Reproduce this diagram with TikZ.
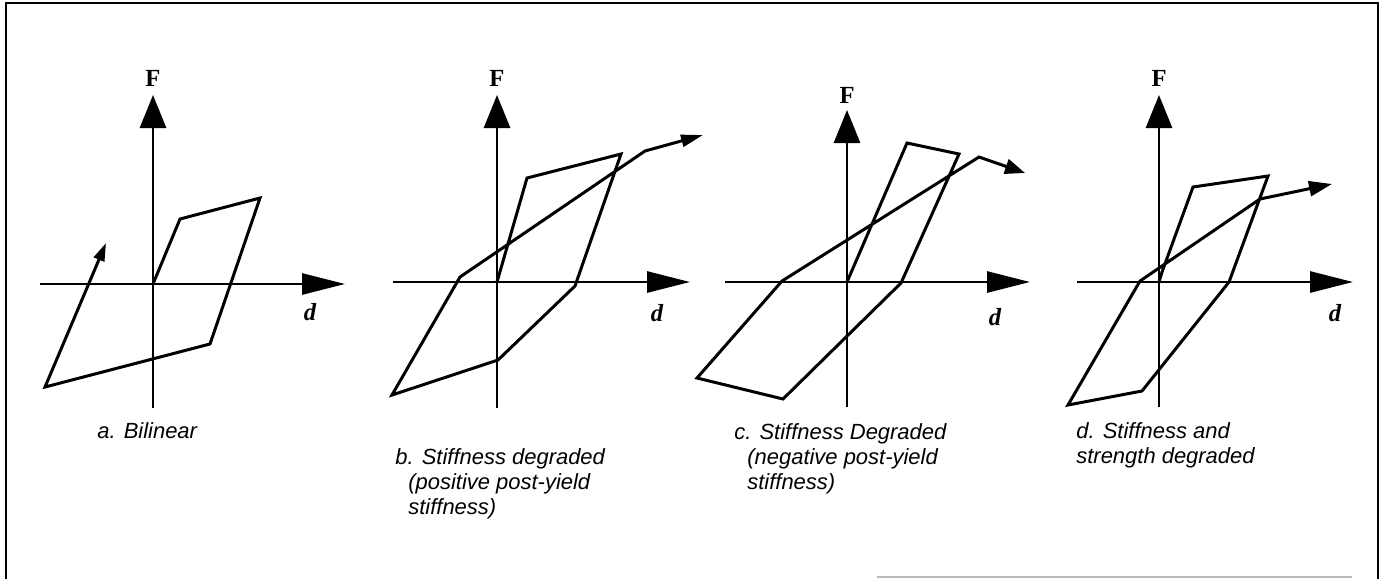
\documentclass[tikz,border=0pt]{standalone}
\usepackage{fontspec}
\setmainfont{Liberation Serif}
\setsansfont{Liberation Sans}
\usepackage{tikz}
\usetikzlibrary{arrows.meta,positioning}
\tikzset{
  frameline/.style={line width=1.1pt},
  axisline/.style={line width=1.6pt},
  haxis/.style={axisline,-{Triangle[length=0.86cm,width=0.42cm]}},
  vaxis/.style={axisline,-{Triangle[length=0.66cm,width=0.52cm]}},
  hyst/.style={line width=1.7pt,line join=miter},
  flabel/.style={font=\fontsize{14}{16}\selectfont\bfseries,inner sep=0pt},
  dlabel/.style={font=\fontsize{14}{16}\selectfont\bfseries\itshape,inner sep=0pt},
  caption/.style={font=\sffamily\itshape\fontsize{12.5}{14.2}\selectfont,
                  align=left,anchor=north west,inner sep=0pt},
}

\begin{document}
\begin{tikzpicture}[x=0.02cm,y=-0.02cm]
  \useasboundingbox (0,0) rectangle (1382,579);
  % frame
  \draw[frameline] (6,579) -- (6,3) -- (1378,3) -- (1378,579);
  \draw[gray!55,line width=0.8pt] (877,577) -- (1352,577);

  % a. bilinear
  \begin{scope}[shift={(153,284)}]
    \coordinate (aO) at (0,0);
    \coordinate (aW) at (-113,0);
    \coordinate (aE) at (192,0);
    \coordinate (aS) at (0,124);
    \coordinate (aN) at (0,-189);
    \draw[haxis] (aW) -- (aE);
    \draw[vaxis] (aS) -- (aN);
    \node[flabel,above=0.16cm of aN] (aF) {F};
    \node[dlabel] (ad) at (157,28) {d};
    \draw[hyst,-{Triangle[length=0.36cm,width=0.22cm]}]
      (aO) -- (27,-65) -- (107,-86) -- (57,60) -- (-108,103) -- (-47,-41);
  \end{scope}
  \node[caption] (acap) at (97,422) {a. Bilinear};

  % b. stiffness degraded, positive
  \begin{scope}[shift={(497,282)}]
    \coordinate (bO) at (0,0);
    \coordinate (bW) at (-104,0);
    \coordinate (bE) at (193,0);
    \coordinate (bS) at (0,126);
    \coordinate (bN) at (0,-187);
    \draw[haxis] (bW) -- (bE);
    \draw[vaxis] (bS) -- (bN);
    \node[flabel,above=0.16cm of bN] (bF) {F};
    \node[dlabel] (bd) at (160,31) {d};
    \draw[hyst,-{Triangle[length=0.44cm,width=0.24cm]}]
      (bO) -- (30,-104) -- (124,-128) -- (78,4) -- (1,78) -- (-105,113)
      -- (-37,-5) -- (148,-131) -- (206,-147);
  \end{scope}
  \node[caption] (bcap) at (395,448)
    {b. Stiffness degraded\\\hspace{0.26cm}(positive post-yield\\\hspace{0.26cm}stiffness)};

  % c. stiffness degraded, negative
  \begin{scope}[shift={(847,282)}]
    \coordinate (cO) at (0,0);
    \coordinate (cW) at (-122,0);
    \coordinate (cE) at (183,0);
    \coordinate (cS) at (0,125);
    \coordinate (cN) at (0,-172);
    \draw[haxis] (cW) -- (cE);
    \draw[vaxis] (cS) -- (cN);
    \node[flabel,above=0.12cm of cN] (cF) {F};
    \node[dlabel] (cd) at (148,35) {d};
    \draw[hyst,-{Triangle[length=0.4cm,width=0.3cm]}]
      (cO) -- (60,-139) -- (112,-128) -- (54,1) -- (-64,117) -- (-150,96)
      -- (-65,-1) -- (132,-125) -- (178,-109);
  \end{scope}
  \node[caption] (ccap) at (734,423)
    {c. Stiffness Degraded\\\hspace{0.26cm}(negative post-yield\\\hspace{0.26cm}stiffness)};

  % d. stiffness and strength degraded
  \begin{scope}[shift={(1159,282)}]
    \coordinate (dO) at (0,0);
    \coordinate (dW) at (-82,0);
    \coordinate (dE) at (194,0);
    \coordinate (dS) at (0,125);
    \coordinate (dN) at (0,-187);
    \draw[haxis] (dW) -- (dE);
    \draw[vaxis] (dS) -- (dN);
    \node[flabel,above=0.16cm of dN] (dF) {F};
    \node[dlabel] (dd) at (176,31) {d};
    \draw[hyst,-{Triangle[length=0.46cm,width=0.3cm]}]
      (dO) -- (3,-10) -- (34,-95) -- (109,-106) -- (70,0) -- (-17,109)
      -- (-91,123) -- (-19,-1) -- (101,-83) -- (173,-98);
  \end{scope}
  \node[caption] (dcap) at (1076,422)
    {d. Stiffness and\\strength degraded};
\end{tikzpicture}
\end{document}
